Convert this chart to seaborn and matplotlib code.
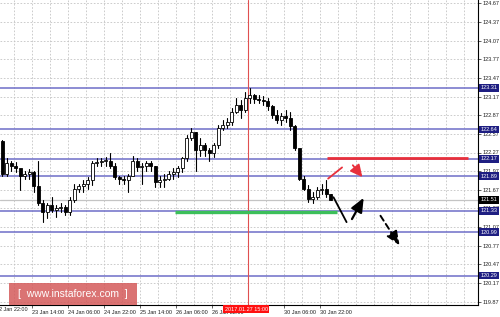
import numpy as np
import pandas as pd
import matplotlib
matplotlib.use("Agg")
import matplotlib.pyplot as plt
from matplotlib.transforms import blended_transform_factory
from matplotlib.patches import Rectangle
import seaborn as sns

# ---------------- data (2-hour bars) ----------------
first_open = 122.45
highs = [122.47, 122.18, 122.14, 122.11, 121.98, 121.98, 122.00, 121.98, 122.14, 121.50,
         121.45, 121.55, 121.42, 121.45, 121.42, 121.55, 121.77, 121.77, 121.82, 121.87,
         122.14, 122.18, 122.18, 122.19, 122.26, 122.10, 121.90, 121.90, 121.92, 122.22,
         122.18, 122.10, 122.14, 122.14, 122.05, 121.89, 121.93, 121.98, 122.02, 122.06,
         122.19, 122.55, 122.66, 122.60, 122.50, 122.43, 122.35, 122.42, 122.71, 122.79,
         122.82, 122.98, 123.14, 123.11, 123.24, 123.30, 123.21, 123.19, 123.18, 123.14,
         123.03, 122.95, 122.90, 122.95, 122.92, 122.71, 122.31, 121.89, 121.74, 121.63,
         121.71, 121.76, 121.82, 121.61]
lows = [121.90, 121.90, 121.98, 121.95, 121.66, 121.85, 121.85, 121.63, 121.42, 121.15,
        121.21, 121.31, 121.23, 121.31, 121.26, 121.27, 121.47, 121.63, 121.63, 121.69,
        121.74, 122.05, 122.06, 122.06, 122.02, 121.85, 121.77, 121.76, 121.63, 121.89,
        121.98, 121.77, 121.98, 121.98, 121.71, 121.71, 121.71, 121.82, 121.85, 121.87,
        121.95, 122.14, 122.47, 121.98, 122.22, 122.22, 122.14, 122.19, 122.34, 122.63,
        122.66, 122.71, 122.90, 122.82, 122.92, 123.06, 123.06, 123.06, 123.03, 122.95,
        122.82, 122.74, 122.71, 122.76, 122.63, 122.31, 121.82, 121.66, 121.47, 121.45,
        121.53, 121.61, 121.56, 121.50]
closes = [121.93, 122.10, 122.06, 122.02, 121.89, 121.92, 121.95, 121.73, 121.45, 121.31,
          121.42, 121.34, 121.37, 121.39, 121.31, 121.50, 121.69, 121.73, 121.77, 121.82,
          122.10, 122.11, 122.13, 122.14, 122.06, 121.87, 121.84, 121.82, 121.89, 122.14,
          122.03, 122.06, 122.10, 122.05, 121.79, 121.82, 121.85, 121.92, 121.95, 122.02,
          122.18, 122.50, 122.60, 122.31, 122.39, 122.31, 122.27, 122.39, 122.66, 122.71,
          122.76, 122.92, 123.03, 122.95, 123.14, 123.19, 123.13, 123.11, 123.10, 123.01,
          122.87, 122.79, 122.85, 122.82, 122.69, 122.34, 121.85, 121.69, 121.53, 121.56,
          121.66, 121.69, 121.61, 121.51]

level_prices = [123.31, 122.64, 122.17, 121.89, 121.33, 120.99, 120.29]
current_price = 121.51
resistance_price = 122.18
support_price = 121.31
price_ticks = [124.67, 124.37, 124.07, 123.77, 123.47, 123.17, 122.87, 122.57, 122.27,
               121.97, 121.67, 121.37, 121.07, 120.77, 120.47, 120.17, 119.87]
time_labels = ["23 Jan 14:00", "24 Jan 06:00", "24 Jan 22:00", "25 Jan 14:00",
               "26 Jan 06:00", "26 Jan 22:00", "30 Jan 06:00", "30 Jan 22:00"]
time_label_bars = [6.5, 14.5, 22.5, 30.5, 38.5, 46.5, 62.5, 70.5]
first_label = "22 Jan 22:00"
marker_bar = 54.5
marker_label = "2017.01.27 15:00"

# forecast paths (bar index, price)
red_seg_x = [72.4, 75.5];   red_seg_y = [121.85, 122.03]
red_arr_x = [77.5, 80.4];   red_arr_y = [122.10, 121.84]
blk_seg_x = [73.6, 76.5];   blk_seg_y = [121.55, 121.15]
blk_arr_x = [77.4, 80.6];   blk_arr_y = [121.16, 121.58]
dash_arr_x = [83.7, 88.6];  dash_arr_y = [121.29, 120.74]
resistance_bars = [72.2, 103.5]
support_bars = [38.4, 74.4]

# ---------------- figure ----------------
sns.set_theme(style="white")
plt.rcParams['font.family'] = ['Liberation Sans', 'DejaVu Sans']

W, H = 500, 317
FS = 4.0
fig = plt.figure(figsize=(W / 100, H / 100), dpi=100)
fig.patch.set_facecolor("white")
ax = fig.add_axes([0, 12 / H, 478 / W, 305 / H])
ax.set_facecolor("white")

n = len(closes)
opens = [first_open] + closes[:-1]
df = pd.DataFrame({"bar": np.arange(n), "open": opens, "high": highs,
                   "low": lows, "close": closes})

ax.set_xlim(-0.5, 105.7)
ax.set_ylim(119.817, 124.723)

# grid
grid_kw = dict(color="#c4c4c4", lw=0.6, ls=(0, (2, 2)), zorder=0)
for gx in np.arange(2.5, 106, 4):
    ax.axvline(gx, **grid_kw)
for gy in price_ticks:
    ax.axhline(gy, **grid_kw)

# level lines
for p in level_prices:
    ax.axhline(p, color="#6e6ec8", lw=1.1, zorder=1)
ax.axhline(current_price, color="#c4c4c4", lw=0.9, zorder=1)
ax.axvline(marker_bar, color="#e05050", lw=0.8, zorder=1)

# wicks via seaborn
wick = pd.concat([df[["bar", "high"]].rename(columns={"high": "price"}),
                  df[["bar", "low"]].rename(columns={"low": "price"})])
sns.lineplot(data=wick, x="bar", y="price", units="bar", estimator=None,
             color="black", lw=0.8, sort=False, ax=ax, zorder=3, legend=False)

# bodies
bull = df["close"] >= df["open"]
body_lo = np.minimum(df["open"], df["close"])
body_h = np.maximum(np.abs(df["close"] - df["open"]), 0.012)
ax.bar(df["bar"][bull], body_h[bull], bottom=body_lo[bull], width=0.6,
       color="white", edgecolor="black", linewidth=0.6, zorder=4)
ax.bar(df["bar"][~bull], body_h[~bull], bottom=body_lo[~bull], width=0.6,
       color="black", edgecolor="black", linewidth=0.6, zorder=4)

# resistance / support
ax.plot(resistance_bars, [resistance_price] * 2, color="#e8303c", lw=2.0, zorder=5,
        solid_capstyle="butt")
ax.plot(support_bars, [support_price] * 2, color="#3cbf5a", lw=2.4, zorder=5,
        solid_capstyle="butt")

# forecast arrows
ax.plot(red_seg_x, red_seg_y, color="#e8303c", lw=1.3, zorder=6)
ax.annotate("", xy=(red_arr_x[1], red_arr_y[1]), xytext=(red_arr_x[0], red_arr_y[0]),
            arrowprops=dict(arrowstyle="-|>,head_length=0.6,head_width=0.3",
                            color="#e8303c", lw=1.3), zorder=6)
ax.plot(blk_seg_x, blk_seg_y, color="black", lw=1.3, zorder=6)
ax.annotate("", xy=(blk_arr_x[1], blk_arr_y[1]), xytext=(blk_arr_x[0], blk_arr_y[0]),
            arrowprops=dict(arrowstyle="-|>,head_length=0.7,head_width=0.3",
                            color="black", lw=1.6), zorder=6)
ax.annotate("", xy=(dash_arr_x[1], dash_arr_y[1]), xytext=(dash_arr_x[0], dash_arr_y[0]),
            arrowprops=dict(arrowstyle="-|>,head_length=0.7,head_width=0.3",
                            color="black", lw=1.4, ls=(0, (3, 2))), zorder=6)

# axes styling
for s in ["top", "left"]:
    ax.spines[s].set_visible(False)
for s in ["right", "bottom"]:
    ax.spines[s].set_visible(True)
    ax.spines[s].set_color("black")
    ax.spines[s].set_linewidth(0.8)

ax.yaxis.tick_right()
ax.set_yticks(price_ticks)
ax.set_yticklabels([f"{p:.2f}" for p in price_ticks])
ax.tick_params(axis="y", labelsize=FS, length=2, width=0.5, pad=1.2, colors="#202020",
               right=True, left=False)
ax.set_xticks(time_label_bars)
ax.set_xticklabels(time_labels, ha="left")
ax.tick_params(axis="x", labelsize=FS, length=2, width=0.5, pad=1.5, colors="#202020",
               bottom=True)
ax.set_xlabel("")
ax.set_ylabel("")
fig.text(-4 / W, 10 / H, first_label, fontsize=FS, color="#202020", va="top", ha="left")

# price boxes
tr = blended_transform_factory(ax.transAxes, ax.transData)
for p in level_prices:
    ax.text(1.005, p, f"{p:.2f}", transform=tr, fontsize=FS, color="white",
            va="center", ha="left", clip_on=False, zorder=10,
            bbox=dict(boxstyle="square,pad=0.25", fc="#1e1e82", ec="none"))
ax.text(1.005, current_price, f"{current_price:.2f}", transform=tr, fontsize=FS,
        color="white", va="center", ha="left", clip_on=False, zorder=10,
        bbox=dict(boxstyle="square,pad=0.25", fc="black", ec="none"))

# bottom time marker label
trx = blended_transform_factory(ax.transData, ax.transAxes)
ax.text(marker_bar - 0.3, -0.006, marker_label, transform=trx, fontsize=FS, color="white",
        va="top", ha="center", clip_on=False, zorder=10,
        bbox=dict(boxstyle="square,pad=0.25", fc="#ff1010", ec="none"))

# watermark
fig.patches.append(Rectangle((9 / W, 12 / H), 128 / W, 22 / H, transform=fig.transFigure,
                             facecolor="#d45a5a", alpha=0.85, edgecolor="none", zorder=20))
fig.text(73 / W, 23 / H, "[  www.instaforex.com  ]", fontsize=7.5, color="white",
         ha="center", va="center", zorder=21)

fig.savefig("out.png", dpi=100, facecolor="white")
